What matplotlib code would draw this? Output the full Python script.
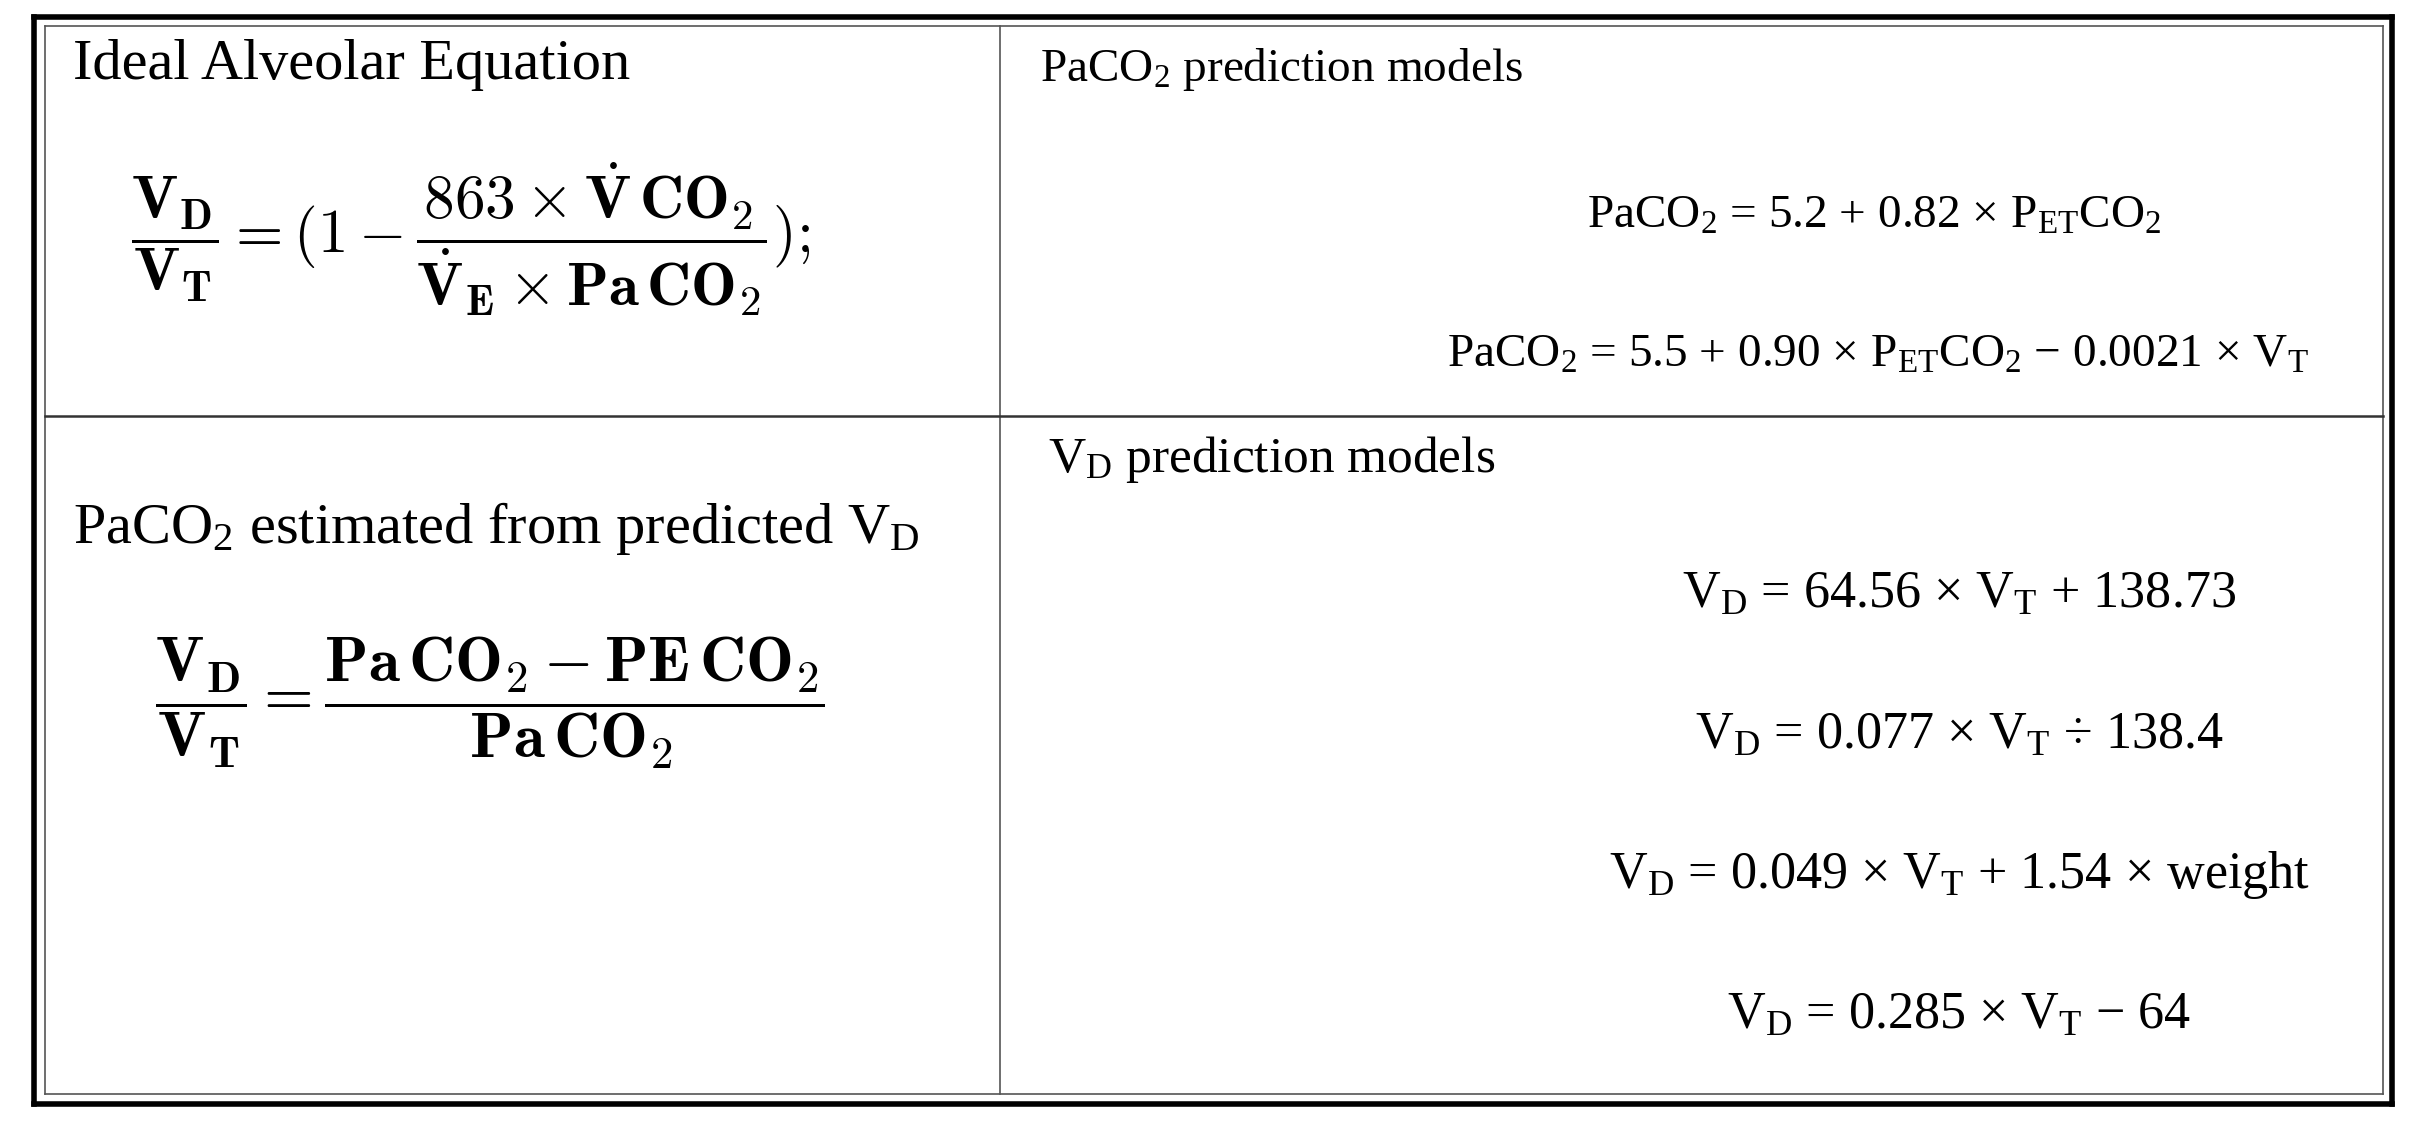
import matplotlib
matplotlib.use("Agg")
import matplotlib.pyplot as plt
from matplotlib.lines import Line2D

plt.rcParams['font.family'] = ['Liberation Serif', 'DejaVu Serif']
plt.rcParams['mathtext.fontset'] = 'custom'
plt.rcParams['mathtext.rm'] = 'Liberation Serif'
plt.rcParams['mathtext.it'] = 'Liberation Serif:italic'
plt.rcParams['mathtext.bf'] = 'Liberation Serif:bold'

W, H = 1568.0, 735.0
fig = plt.figure(figsize=(24.23, 11.36), dpi=100)
fig.patch.set_facecolor('white')

def X(x): return x / W
def Y(y): return 1 - y / H

def line(x0, y0, x1, y1, lw, c='black'):
    fig.add_artist(Line2D([X(x0), X(x1)], [Y(y0), Y(y1)], lw=lw, color=c,
                          transform=fig.transFigure))

for (a, b, c, d) in [(22, 11, 1548, 11), (22, 714, 1548, 714), (22, 11, 22, 714), (1548, 11, 1548, 714)]:
    line(a, b, c, d, 4)
for (a, b, c, d) in [(29, 17, 1542, 17), (29, 708, 1542, 708), (29, 17, 29, 708), (1542, 17, 1542, 708)]:
    line(a, b, c, d, 1.2, '#555555')
line(647, 17, 647, 708, 1.2, '#555555')
line(29, 269, 1542, 269, 1.8, '#333333')

left_title_1 = "Ideal Alveolar Equation"
left_title_2 = r"PaCO$_2$ estimated from predicted V$_\mathrm{D}$"
eq1 = (r"$\mathbf{\dfrac{V_D}{V_T}} = \mathbf{(1 - \dfrac{863\times\dot{V}\,CO_2}"
       r"{\dot{V}_E\times Pa\,CO_2});}$")
eq2 = r"$\mathbf{\dfrac{V_D}{V_T}} = \mathbf{\dfrac{Pa\,CO_2 - PE\,CO_2}{Pa\,CO_2}}$"

right_title_1 = r"PaCO$_2$ prediction models"
right_title_2 = r"V$_\mathrm{D}$ prediction models"
paco2_models = [
    r"PaCO$_2$ = 5.2 + 0.82 × P$_\mathrm{ET}$CO$_2$",
    r"PaCO$_2$ = 5.5 + 0.90 × P$_\mathrm{ET}$CO$_2$ − 0.0021 × V$_\mathrm{T}$",
]
paco2_pos = [(1213, 140), (1215, 230)]
vd_models = [
    r"V$_\mathrm{D}$ = 64.56 × V$_\mathrm{T}$ + 138.73",
    r"V$_\mathrm{D}$ = 0.077 × V$_\mathrm{T}$ ÷ 138.4",
    r"V$_\mathrm{D}$ = 0.049 × V$_\mathrm{T}$ + 1.54 × weight",
    r"V$_\mathrm{D}$ = 0.285 × V$_\mathrm{T}$ − 64",
]
vd_pos = [(1268, 385), (1268, 476), (1268, 566), (1268, 657)]

fig.text(X(47), Y(42), left_title_1, fontsize=42, va='center', ha='left')
fig.text(X(47), Y(342), left_title_2, fontsize=42, va='center', ha='left')
fig.text(X(85), Y(155), eq1, fontsize=44, va='center', ha='left', math_fontfamily='cm')
fig.text(X(100), Y(455), eq2, fontsize=46, va='center', ha='left', math_fontfamily='cm')

fig.text(X(673), Y(45), right_title_1, fontsize=34, va='center', ha='left')
fig.text(X(678), Y(297), right_title_2, fontsize=37, va='center', ha='left')
for s, (x, y) in zip(paco2_models, paco2_pos):
    fig.text(X(x), Y(y), s, fontsize=34, va='center', ha='center')
for s, (x, y) in zip(vd_models, vd_pos):
    fig.text(X(x), Y(y), s, fontsize=37.5, va='center', ha='center')

fig.savefig("out.png", dpi=100, facecolor='white')
